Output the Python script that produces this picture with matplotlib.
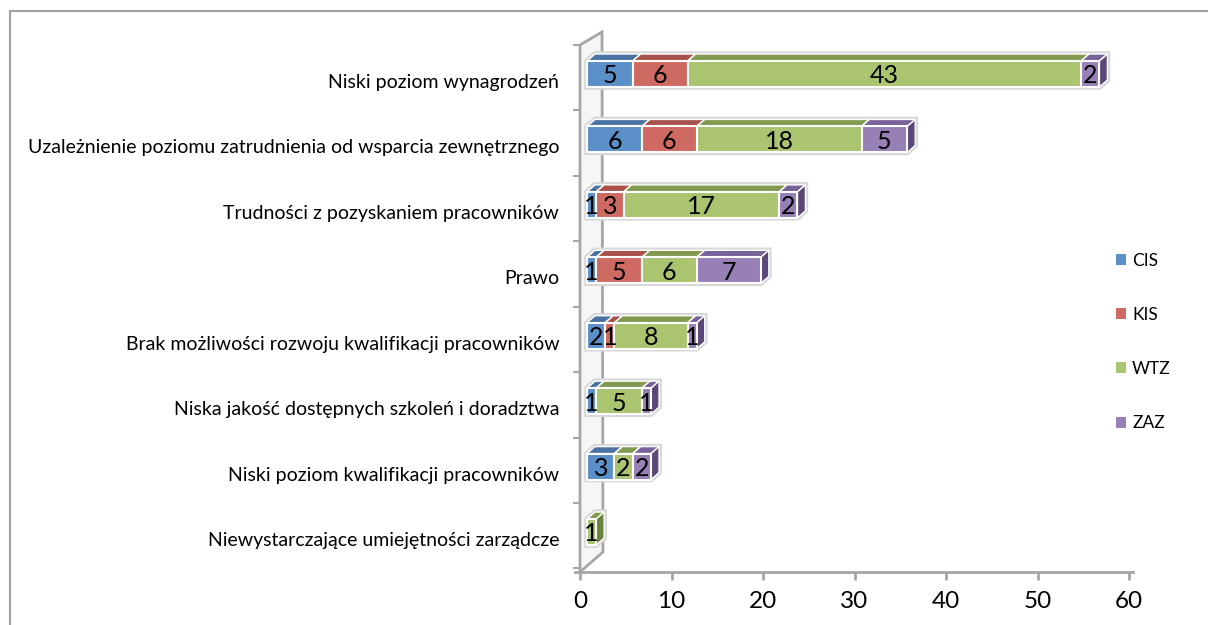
import matplotlib.pyplot as plt
from matplotlib.patches import Polygon, Rectangle, Patch
import numpy as np

plt.rcParams['font.family'] = ['Lato', 'DejaVu Sans']

# data (top to bottom)
categories = [
    "Niski poziom wynagrodzeń",
    "Uzależnienie poziomu zatrudnienia od wsparcia zewnętrznego",
    "Trudności z pozyskaniem pracowników",
    "Prawo",
    "Brak możliwości rozwoju kwalifikacji pracowników",
    "Niska jakość dostępnych szkoleń i doradztwa",
    "Niski poziom kwalifikacji pracowników",
    "Niewystarczające umiejętności zarządcze",
]
series = ["CIS", "KIS", "WTZ", "ZAZ"]
cis = [5, 6, 1, 1, 2, 1, 3, 0]
kis = [6, 6, 3, 5, 1, 0, 0, 0]
wtz = [43, 18, 17, 6, 8, 5, 2, 1]
zaz = [2, 5, 2, 7, 1, 1, 2, 0]
xticks = [0, 10, 20, 30, 40, 50, 60]

# colours: front, top, side
front = ["#5B8FC7", "#CF6A62", "#AAC46F", "#9680B6"]
top = ["#4A73A3", "#A8524B", "#819A4F", "#77629A"]
side = ["#3E5F88", "#8B423D", "#6A8240", "#5C4878"]

W, H = 1208, 625
fig = plt.figure(figsize=(W / 100, H / 100), dpi=100)

# pixel geometry of the plot area
x0_px, x60_px = 580, 1129
ytop_px, ybot_px = 40, 572
c0_px, step_px = 74, 65.43
ax = fig.add_axes([x0_px / W, 1 - ybot_px / H, (x60_px - x0_px) / W, (ybot_px - ytop_px) / H])
ax.set_xlim(0, 60)
ax.set_ylim((ybot_px - c0_px) / step_px, (ytop_px - c0_px) / step_px)

ppx = 60 / (x60_px - x0_px)   # data units per pixel (x)
ppy = 1 / step_px             # slot units per pixel (y)

def px(xp, yp):
    return ((xp - x0_px) * ppx, (yp - c0_px) * ppy)

# border of the chart area
fig.patches.append(Rectangle((10 / W, -0.1), 1.2, 1 - 11 / H + 0.1, transform=fig.transFigure,
                             fill=False, edgecolor="#A0A0A0", lw=1.5))

# 3D wall on the left
wall = Polygon([px(580, 45), px(602, 32), px(603, 552), px(580, 572)], closed=True,
               facecolor="#F6F6F6", edgecolor="#A6A6A6", lw=2, clip_on=False, zorder=1)
ax.add_patch(wall)
ax.plot(*zip(px(575, 572), px(x60_px + 4, 572)), color="#A6A6A6", lw=2, clip_on=False, zorder=1)

n = len(categories)
y = np.arange(n)
values = [cis, kis, wtz, zaz]
bar_h = 26 * ppy
dx, dy = 8 * ppx, 7 * ppy
off = 7 * ppx

left = np.full(n, off)
totals = np.sum(values, axis=0)
# soft outline around each bar
for i in range(n):
    L, R = off, off + totals[i]
    t, b = y[i] - bar_h / 2, y[i] + bar_h / 2
    ax.add_patch(Polygon([(L, b), (L, t), (L + dx, t - dy), (R + dx, t - dy), (R + dx, b - dy), (R, b)],
                         closed=True, facecolor="white", edgecolor="#D8D8D8", lw=4, zorder=2, clip_on=False))

for s, vals in enumerate(values):
    vals = np.array(vals)
    ax.barh(y, vals, height=bar_h, left=left, color=front[s], edgecolor="white", lw=1.5, zorder=4)
    for i in range(n):
        v = vals[i]
        if v == 0:
            continue
        L = left[i]
        R = L + v
        t, b = y[i] - bar_h / 2, y[i] + bar_h / 2
        ax.add_patch(Polygon([(L, t), (L + dx, t - dy), (R + dx, t - dy), (R, t)], closed=True,
                             facecolor=top[s], edgecolor="white", lw=1, zorder=3))
        ax.add_patch(Polygon([(R, t), (R + dx, t - dy), (R + dx, b - dy), (R, b)], closed=True,
                             facecolor=side[s], edgecolor="white", lw=1, zorder=3))
        ax.text(L + v / 2, y[i] + 0.03, str(v), ha="center", va="center", fontsize=18, color="black", zorder=6)
    left = left + vals

# axes styling
for sp in ["top", "right", "left", "bottom"]:
    ax.spines[sp].set_visible(False)
ax.set_xticks(xticks)
ax.tick_params(axis="x", length=6, width=2, color="#A6A6A6", labelsize=17.5, pad=8)

ax.set_yticks(y + 7 * ppy, labels=categories)
ax.tick_params(axis="y", which="major", length=0, pad=15, labelsize=14)
ax.set_yticks(np.arange(n + 1) - 29 * ppy, minor=True)
ax.tick_params(axis="y", which="minor", length=5, width=1.5, color="#A6A6A6")

handles = [Patch(facecolor=front[s], edgecolor="none", label=series[s]) for s in range(len(series))]
fig.legend(handles=handles, loc="center left", bbox_to_anchor=(1100 / W, 1 - 342 / H), frameon=False,
           fontsize=12.5, handlelength=0.6, handleheight=0.6, handletextpad=0.35, labelspacing=2.2)

fig.savefig("out.png", dpi=100)
